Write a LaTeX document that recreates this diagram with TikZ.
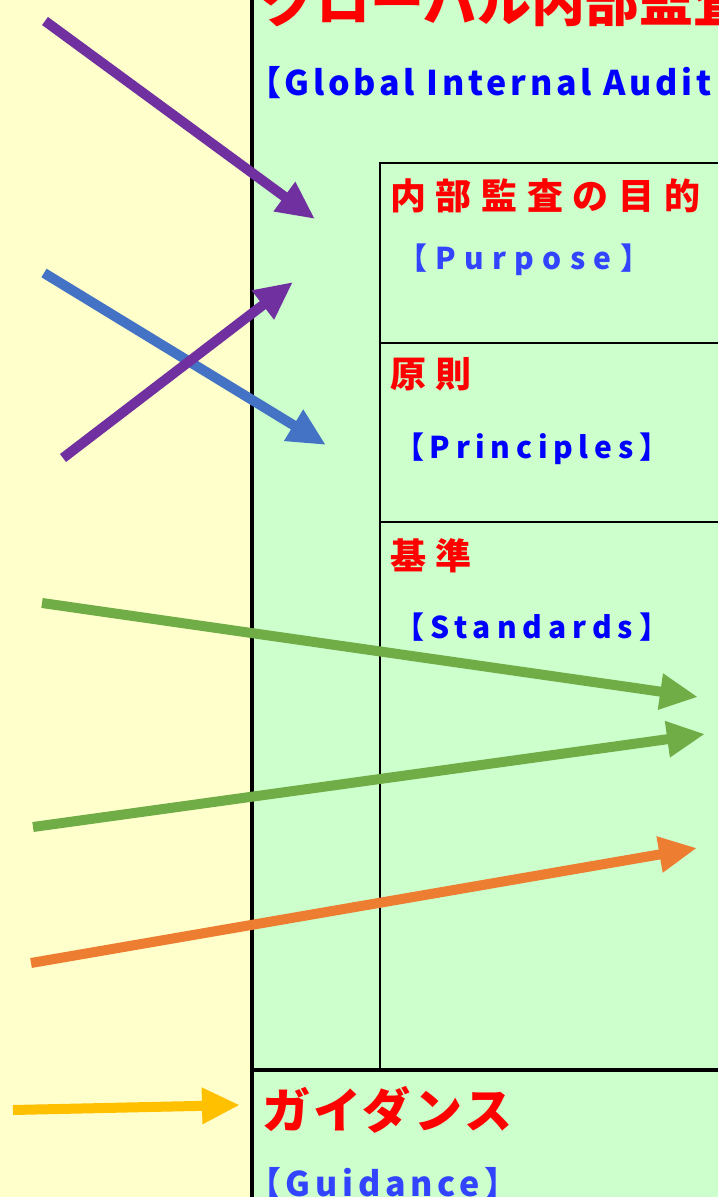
\documentclass[tikz,border=0pt]{standalone}
\usepackage{fontspec}
\newfontfamily\jp{Noto Sans CJK JP}
\usetikzlibrary{arrows.meta}
\definecolor{bgyellow}{HTML}{FFFFCC}
\definecolor{bggreen}{HTML}{CCFFCC}
\definecolor{apurple}{HTML}{7030A0}
\definecolor{ablue}{HTML}{4472C4}
\definecolor{agreen}{HTML}{70AD47}
\definecolor{aorange}{HTML}{ED7D31}
\definecolor{agold}{HTML}{FFC000}
\definecolor{tred}{HTML}{FF0000}
\definecolor{tblue}{HTML}{0000FF}
\definecolor{tbluelight}{HTML}{3344FF}
\tikzset{
  txt/.style={anchor=base west, inner sep=0pt, outer sep=0pt},
  redtitle/.style={txt, text=tred, font=\jp\bfseries\fontsize{27}{30}\selectfont},
  redlabel/.style={txt, text=tred, font=\jp\bfseries\fontsize{18}{21}\selectfont\addfontfeature{LetterSpace=27}},
  redguide/.style={txt, text=tred, font=\jp\bfseries\fontsize{24}{28}\selectfont\addfontfeature{LetterSpace=7}},
  bluelabel/.style={txt, text=tblue},
  bluetitle/.style={txt, text=tblue},
  frame/.style={line width=1pt, draw=black},
  thickframe/.style={line width=2pt, draw=black},
  bigarrow/.style={line width=5pt, -{Triangle[length=19pt,width=17pt]}},
}
\newcommand{\bluefont}[2]{\jp\bfseries\fontsize{#1}{#1}\selectfont\addfontfeature{LetterSpace=#2}}
\begin{document}
\begin{tikzpicture}[x=0.5pt,y=-0.5pt]
\useasboundingbox (0,0) rectangle (718,1197);
\clip (0,0) rectangle (718,1197);
% backgrounds
\fill[bgyellow] (0,0) rectangle (252,1197);
\fill[bggreen] (252,0) rectangle (718,1197);
% inner frame
\draw[frame] (718,163) -- (380,163) -- (380,1070);
\draw[frame] (380,343) -- (718,343);
\draw[frame] (380,522) -- (718,522);
\draw[thickframe] (252,1070) -- (718,1070);
\draw[thickframe] (252,0) -- (252,1197);
% texts
\node[redtitle] (title) at (262,22) {グローバル内部監査基準};
\node[bluetitle, font=\bluefont{17}{11}] (titleen) at (247,96) {【Global Internal Audit Standards】};
\node[redlabel] (purposejp) at (390,210) {内部監査の目的};
\node[bluelabel, text=tbluelight, font=\bluefont{15}{28}] (purposeen) at (397,270) {【Purpose】};
\node[redlabel] (principlesjp) at (390,387) {原則};
\node[bluelabel, font=\bluefont{15}{19}] (principlesen) at (394,458) {【Principles】};
\node[redlabel] (standardsjp) at (390,569) {基準};
\node[bluelabel, font=\bluefont{15}{20}] (standardsen) at (394,638) {【Standards】};
\node[redguide] (guidancejp) at (262,1128) {ガイダンス};
\node[bluetitle, text=tbluelight, font=\bluefont{17}{14}] (guidanceen) at (247,1196) {【Guidance】};
% arrow end points
\coordinate (p1s) at (45,21);   \coordinate (p1e) at (315,219);
\coordinate (p2s) at (63,458);  \coordinate (p2e) at (293,282);
\coordinate (b1s) at (44,273);  \coordinate (b1e) at (326,445);
\coordinate (g1s) at (42,603);  \coordinate (g1e) at (698,697);
\coordinate (g2s) at (33,827);  \coordinate (g2e) at (705,734);
\coordinate (o1s) at (31,963);  \coordinate (o1e) at (697,848);
\coordinate (y1s) at (13,1110); \coordinate (y1e) at (240,1105);
% arrows
\draw[bigarrow, draw=apurple, fill=apurple] (p1s) -- (p1e);
\draw[bigarrow, draw=ablue, fill=ablue] (b1s) -- (b1e);
\draw[bigarrow, draw=apurple, fill=apurple] (p2s) -- (p2e);
\draw[bigarrow, draw=agreen, fill=agreen] (g1s) -- (g1e);
\draw[bigarrow, draw=agreen, fill=agreen] (g2s) -- (g2e);
\draw[bigarrow, draw=aorange, fill=aorange] (o1s) -- (o1e);
\draw[bigarrow, draw=agold, fill=agold] (y1s) -- (y1e);
\end{tikzpicture}
\end{document}
